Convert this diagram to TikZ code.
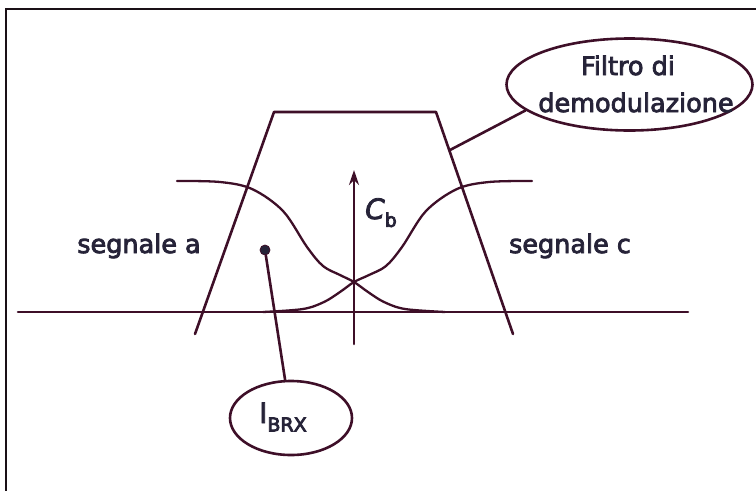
\documentclass[tikz,border=0pt]{standalone}
\usepackage{fontspec}
\setmainfont{DejaVu Sans}
\newcommand\heavytext[1]{\special{pdf:literal direct 2 Tr 0.8 w}#1\special{pdf:literal direct 0 Tr}}
\usetikzlibrary{shapes.geometric,arrows.meta}
\definecolor{linec}{HTML}{3E0F28}
\definecolor{textc}{HTML}{262338}
\definecolor{framec}{HTML}{1A1016}
\tikzset{
  wire/.style={draw=linec, line width=2.6pt, line join=round, line cap=round},
  lbl/.style={text=textc, font=\fontsize{25.5}{30}\selectfont, inner sep=0pt},
  bubble/.style={ellipse, draw=linec, line width=2.6pt, inner sep=0pt},
}
\begin{document}
\begin{tikzpicture}[x=1pt,y=-1pt]
\useasboundingbox (0,0) rectangle (756,491);
% frame (top and left edges)
\draw[framec, line width=2.4pt] (756,9) -- (6,9) -- (6,491);
% axis
\coordinate (axL) at (18,312);
\coordinate (axR) at (688,312);
\draw[wire] (axL) -- (axR);
% trapezoid (filter)
\coordinate (tBL) at (195,334);
\coordinate (tTL) at (274,112);
\coordinate (tTR) at (436,112);
\coordinate (tBR) at (513,334);
\draw[wire] (tBL) -- (tTL) -- (tTR) -- (tBR);
% signal curves
\draw[wire, line width=2.3pt] plot[smooth, tension=0.55] coordinates {(177,181) (220,182) (252,189) (283,211) (307,247) (323,266) (340,275) (354,282) (368,292) (384,302) (405,309) (445,312)};
\draw[wire, line width=2.3pt] plot[smooth, tension=0.55] coordinates {(532,181) (489,182) (457,189) (426,211) (402,247) (386,266) (369,275) (354,282) (340,292) (324,302) (303,309) (263,312)};
% carrier arrow
\coordinate (cbot) at (354,344);
\coordinate (ctop) at (354,170);
\draw[wire, -{Stealth[length=15pt,width=10pt,inset=5pt]}] (cbot) -- (ctop);
\node[text=textc, inner sep=0pt, anchor=base west] (cb) at (365,219) {\heavytext{\fontsize{28}{30}\selectfont\itshape C\raisebox{-0.28em}{\fontsize{19}{20}\selectfont\upshape b}}};
% labels
\node[lbl, anchor=base] (sa) at (139,253) {\heavytext{segnale a}};
\node[lbl, anchor=base] (sc) at (570,253) {\heavytext{segnale c}};
% filter bubble
\node[bubble, minimum width=246pt, minimum height=92pt] (filt) at (629.5,84.5) {};
\node[lbl, anchor=base] (ft1) at (628,75) {\heavytext{Filtro di}};
\node[lbl, anchor=base] (ft2) at (636,112) {\heavytext{demodulazione}};
\coordinate (fpt) at (450,150);
\draw[wire] (fpt) -- (filt.194);
% I_BRX bubble
\node[circle, fill=textc, draw=linec, line width=0.8pt, minimum size=10pt, inner sep=0pt] (dot) at (265,250) {};
\node[bubble, minimum width=122pt, minimum height=74pt] (ibrx) at (291,418) {};
\node[text=textc, inner sep=0pt, anchor=base west] (ibt) at (259,423) {\heavytext{\fontsize{28}{30}\selectfont I\raisebox{-0.3em}{\fontsize{19}{20}\selectfont BRX}}};
\draw[wire] (dot) -- (ibrx);
\end{tikzpicture}
\end{document}
